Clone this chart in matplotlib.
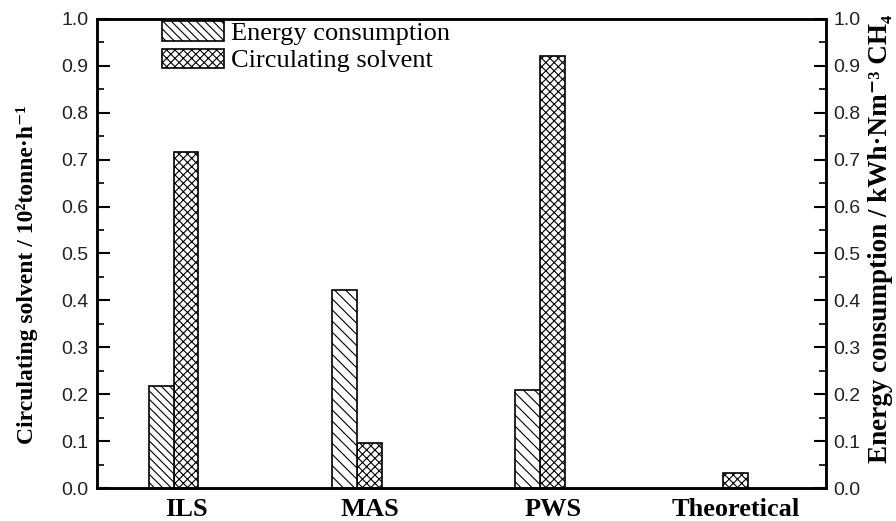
import matplotlib
matplotlib.use("Agg")
import matplotlib.pyplot as plt
import numpy as np
from matplotlib.patches import Patch

categories = ["ILS", "MAS", "PWS", "Theoretical"]
energy = [0.217, 0.422, 0.209, 0.0]
solvent = [0.716, 0.097, 0.921, 0.033]
yticks = [0.0, 0.1, 0.2, 0.3, 0.4, 0.5, 0.6, 0.7, 0.8, 0.9, 1.0]

plt.rcParams['hatch.linewidth'] = 0.8
serif = ['Liberation Serif', 'DejaVu Serif']
sans = ['Liberation Sans', 'DejaVu Sans']

fig = plt.figure(figsize=(8.96, 5.21), dpi=100)
ax = fig.add_axes([0.108, 0.063, 0.814, 0.901])
ax2 = ax.twinx()

x = np.arange(len(categories))
w = 0.135
e_hatch = ['\\\\\\\\', '\\\\\\', '\\\\\\', '\\\\\\']
for i in range(len(categories)):
    if energy[i] > 0:
        ax2.bar(x[i] - w / 2, energy[i], w, facecolor='white', edgecolor='black',
                hatch=e_hatch[i], linewidth=1.2)
    ax.bar(x[i] + w / 2, solvent[i], w, facecolor='white', edgecolor='black',
           hatch='xxxx', linewidth=1.2)

for a in (ax, ax2):
    a.set_ylim(0, 1.0)
    a.set_xlim(-0.42, 3.563)
    a.set_yticks(yticks)
    a.set_yticks(np.arange(0.05, 1.0, 0.1), minor=True)
    a.tick_params(axis='y', which='major', direction='in', length=9, width=1.5)
    a.tick_params(axis='y', which='minor', direction='in', length=5, width=1.2)
    for s in a.spines.values():
        s.set_linewidth(1.8)

ax.set_yticklabels([f"{v:.1f}" for v in yticks], family=sans, fontsize=14, color='#222222')
ax2.set_yticklabels([f"{v:.1f}" for v in yticks], family=sans, fontsize=14, color='#222222')
ax.tick_params(axis='y', pad=6)
ax2.tick_params(axis='y', pad=5)

ax.set_xticks(x + 0.07)
ax.set_xticklabels(categories, family=serif, fontweight='bold', fontsize=19)
ax.tick_params(axis='x', length=0, pad=7)

ax.set_ylabel("Circulating solvent / 10²tonne·h⁻¹", family=serif, fontweight='bold',
              fontsize=17)
ax.yaxis.set_label_coords(-0.081, 0.454)
ax2.set_ylabel("Energy consumption / kWh·Nm⁻³ CH₄", family=serif, fontweight='bold',
               fontsize=19.5, rotation=90)
ax2.yaxis.set_label_coords(1.058, 0.531)

handles = [Patch(facecolor='white', edgecolor='black', hatch='\\\\\\\\', linewidth=1.2),
           Patch(facecolor='white', edgecolor='black', hatch='xxxx', linewidth=1.2)]
leg = ax.legend(handles, ["Energy consumption", "Circulating solvent"],
                loc='upper left', bbox_to_anchor=(0.087, 0.997), frameon=False,
                prop={'family': serif, 'size': 19}, handlelength=2.35, handleheight=0.75,
                handletextpad=0.3, labelspacing=0.12, borderaxespad=0.0, borderpad=0.05)

fig.savefig("out.png", dpi=100)
